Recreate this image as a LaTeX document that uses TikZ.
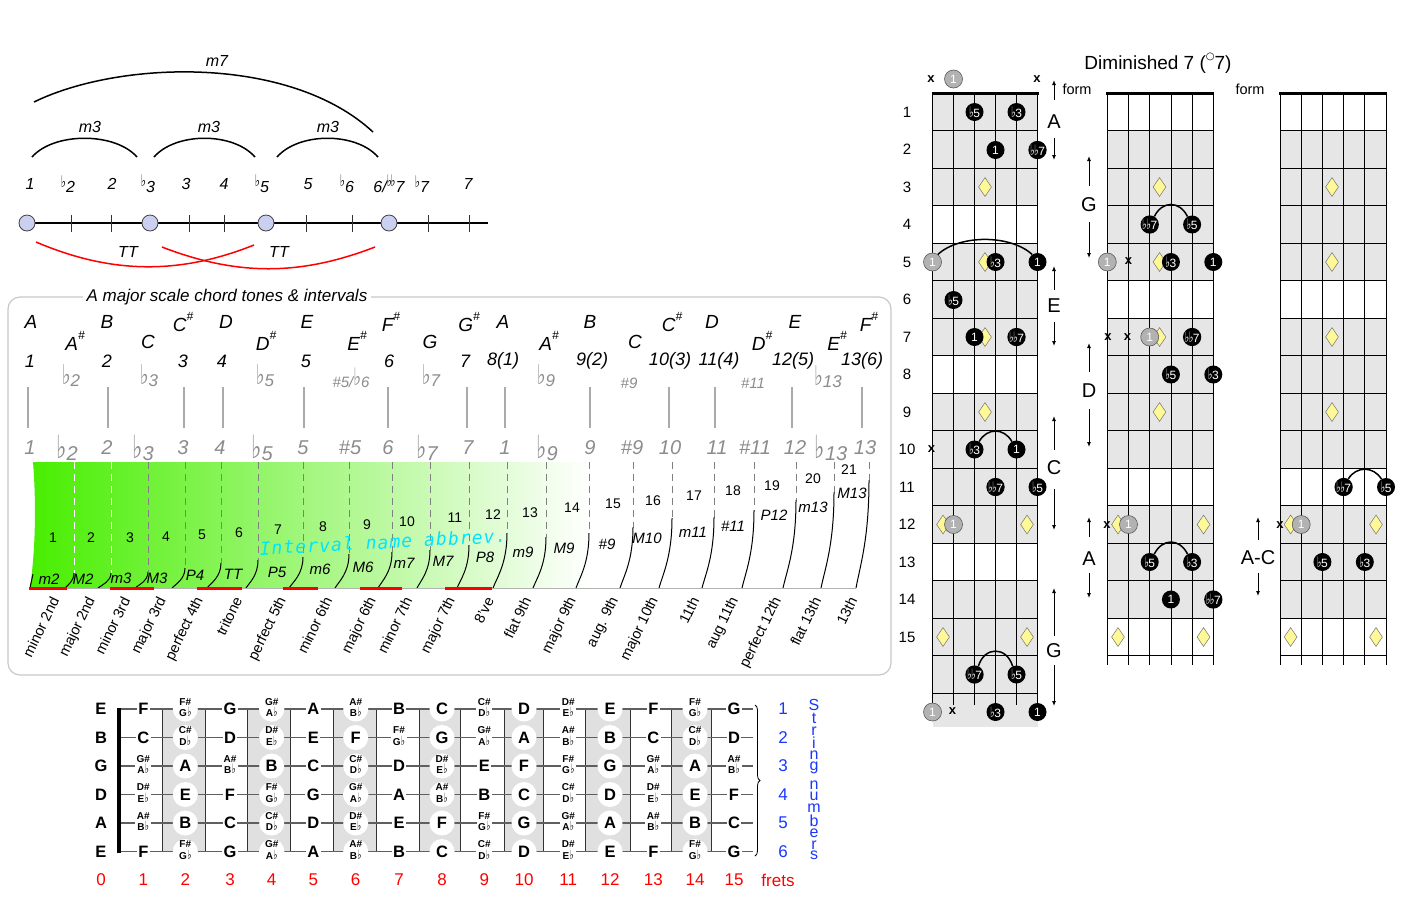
\documentclass[tikz,border=0pt]{standalone}
\usepackage{fontspec}
\setmainfont{Liberation Sans}
\newfontfamily\dejavu{DejaVu Sans}
\newfontfamily\dmono[LetterSpace=6]{DejaVu Sans Mono}
\usetikzlibrary{arrows.meta,shapes.geometric,decorations.pathreplacing}
\definecolor{lav}{RGB}{204,208,240}
\definecolor{gtxt}{RGB}{140,140,140}
\definecolor{gline}{RGB}{170,170,170}
\definecolor{fbgray}{RGB}{230,230,230}
\definecolor{colgray}{RGB}{224,224,224}
\definecolor{greenL}{RGB}{72,238,0}
\definecolor{greenM}{RGB}{214,250,200}
\definecolor{redL}{RGB}{255,0,0}
\definecolor{blueS}{RGB}{25,55,255}
\definecolor{cyanT}{RGB}{0,228,255}
\definecolor{dia}{RGB}{255,248,150}
\definecolor{gcirc}{RGB}{178,178,178}
\definecolor{boxgray}{RGB}{200,200,200}
\definecolor{strg}{RGB}{95,95,95}
\newcommand\fs[1]{\fontsize{#1}{#1}\selectfont}
\newcommand\FL{{\dejavu\upshape\scalebox{1.1}[1.6]{♭}}}
\newcommand\fsup{\raisebox{.35em}{\fs{10}\FL}}
\newcommand\gfl{\raisebox{.12em}{\FL}}
\newcommand\cf{{\fs{9}\FL}\kern-.5pt}
\newcommand\shp[2]{{\fs{10}\begin{tabular}{@{}c@{}}#1\#\\[-0.8pt]#2\kern.3pt{\fs{8}\FL}\end{tabular}}}
\newcommand\nat[1]{{\fs{16.5}#1}}
\newcommand\notename[1]{\ifcase#1 \nat{C}\or\shp{C}{D}\or\nat{D}\or\shp{D}{E}\or\nat{E}\or\nat{F}\or\shp{F}{G}\or\nat{G}\or\shp{G}{A}\or\nat{A}\or\shp{A}{B}\or\nat{B}\fi}
\newcommand\sh{\raisebox{.55em}{\fs{12}\#}}
\begin{document}
\begin{tikzpicture}[x=1pt,y=-1pt,
  tl/.style={font=\fs{16}\itshape, inner sep=0pt},
  dot/.style={circle, draw=black!75, line width=.8pt, fill=lav, minimum size=16pt, inner sep=0pt},
  karc/.style={line width=1.5pt},
  rarc/.style={line width=1.5pt, redL},
  nn/.style={font=\fs{19}\itshape, inner sep=0pt},
  dg/.style={font=\fs{18}\itshape, inner sep=0pt},
  gd/.style={font=\fs{17}\itshape, text=gtxt, inner sep=0pt},
  lg/.style={font=\fs{20}\itshape, text=gtxt, inner sep=0pt},
  vl/.style={gline, line width=1.2pt},
  num/.style={font=\fs{14}, inner sep=0pt},
  abr/.style={font=\fs{15}\itshape, inner sep=0pt},
  rot/.style={font=\fs{14.5}, anchor=east, rotate=64, inner sep=0pt},
  sol/.style={line width=1pt, black},
  noteC/.style={circle, fill=white, minimum size=25pt, inner sep=0pt, font=\bfseries},
  noteR/.style={fill=white, inner sep=1.5pt, font=\bfseries},
  fretn/.style={font=\fs{17}, text=redL, inner sep=0pt},
  fret/.style={line width=.8pt, black},
  bc/.style={circle, fill=black, text=white, minimum size=18pt, inner sep=0pt, font=\fs{12}},
  gc/.style={circle, fill=gcirc, draw=black!65, line width=.6pt, text=white, minimum size=18pt, inner sep=0pt, font=\fs{12}},
  dm/.style={diamond, fill=dia, draw=black!55, line width=.5pt, minimum width=13pt, minimum height=19pt, inner sep=0pt},
  xm/.style={font=\fs{13}\bfseries, inner sep=0pt},
  farr/.style={-{Latex[length=5pt,width=4pt]}, line width=1pt},
  flab/.style={font=\fs{20}, inner sep=0pt},
  fnum/.style={font=\fs{15}, inner sep=0pt}
]
\fill[white] (0,0) rectangle (1407,898);
\useasboundingbox (0,0) rectangle (1407,898);

%% ---------- top-left interval line ----------
\draw[line width=1.3pt] (27,223) -- (488,223);
\foreach \x [count=\i] in {71,111,189,224,306,352,428,469}
  \draw[line width=.9pt, black!80] (\x,215) coordinate (tk\i) -- (\x,232);
\foreach \x/\n in {27/c1,150/c3,266/c5,389/c6}
  \node[dot] (\n) at (\x,223) {};
\node[tl] (d1) at (30,184) {1};
\node[tl] (d2) at (68,184) {\fsup2};
\node[tl] (d3) at (112,184) {2};
\node[tl] (d4) at (148,184) {\fsup3};
\node[tl] (d5) at (186,184) {3};
\node[tl] (d6) at (224,184) {4};
\node[tl] (d7) at (262,184) {\fsup5};
\node[tl] (d8) at (308,184) {5};
\node[tl] (d9) at (347,184) {\fsup6};
\node[tl] (d10) at (389,184) {6/\fsup\kern-1.5pt\fsup7};
\node[tl] (d11) at (422,184) {\fsup7};
\node[tl] (d12) at (468,184) {7};
\coordinate (m3a1) at (32,157); \coordinate (m3b1) at (137,157);
\coordinate (m3a2) at (154,157); \coordinate (m3b2) at (255,157);
\coordinate (m3a3) at (277,157); \coordinate (m3b3) at (378,157);
\foreach \i in {1,2,3}
  \draw[karc] (m3a\i) .. controls +(22,-25) and +(-22,-25) .. (m3b\i);
\node[tl] (lm31) at (90,127) {m3};
\node[tl] (lm32) at (209,127) {m3};
\node[tl] (lm33) at (328,127) {m3};
\coordinate (m7a) at (34,102); \coordinate (m7b) at (373,132);
\draw[karc] (m7a) .. controls (120,60) and (290,55) .. (m7b);
\node[tl] (lm7) at (217,61) {m7};
\coordinate (tta1) at (36,242); \coordinate (ttb1) at (254,245);
\coordinate (tta2) at (162,247); \coordinate (ttb2) at (375,247);
\draw[rarc] (tta1) .. controls (111,274) and (179,275) .. (ttb1);
\draw[rarc] (tta2) .. controls (237,276) and (300,276) .. (ttb2);
\node[tl] (tt1) at (128,252) {TT};
\node[tl] (tt2) at (279,252) {TT};

%% ---------- scale box ----------
\draw[boxgray, line width=1.2pt, rounded corners=12pt] (8,297) rectangle (891,675);
\node[fill=white, font=\fs{17}\itshape, inner xsep=4pt, inner ysep=1pt] (boxtitle) at (227,297) {A major scale chord tones \& intervals};
\foreach \x/\y/\t [count=\i] in {31/322/A, 75/341/A\sh, 107/322/B, 148/342/C, 183/322/C\sh, 226/322/D, 266/341/D\sh, 307/322/E, 357/341/E\sh, 391/322/F\sh, 430/342/G, 469/322/G\sh, 503/322/A, 549/341/A\sh, 590/322/B, 635/342/C, 672/322/C\sh, 712/322/D, 762/341/D\sh, 795/322/E, 837/341/E\sh, 869/322/F\sh}
  \node[nn] (nm\i) at (\x,\y) {\t};
\foreach \x/\t [count=\i] in {30/1, 107/2, 183/3, 222/4, 306/5, 389/6, 465/7, 503/8(1), 592/9(2), 670/10(3), 719/11(4), 793/12(5), 862/13(6)}
  \node[dg] (dg\i) at (\x,361) {\t};
\node[gd] (gd1) at (71,376) {\gfl2};
\node[gd] (gd2) at (149,376) {\gfl3};
\node[gd] (gd3) at (265,376) {\gfl5};
\node[gd, font=\fs{15}\itshape] (gd4) at (351,378) {\#5/\gfl6};
\node[gd] (gd5) at (431,376) {\gfl7};
\node[gd] (gd6) at (546,376) {\gfl9};
\node[gd, font=\fs{15}\itshape] (gd7) at (629,383) {\#9};
\node[gd, font=\fs{15}\itshape] (gd8) at (753,383) {\#11};
\node[gd] (gd9) at (828,377) {\gfl13};
\foreach \x [count=\i] in {28,108,184,223,304,388,467,505,590,669,715,792,862}
  \draw[vl] (\x,387) coordinate (vt\i) -- (\x,428) coordinate (vb\i);
\foreach \x/\t [count=\i] in {30/1, 67/\gfl2, 107/2, 143/\gfl3, 183/3, 220/4, 262/\gfl5, 303/5, 350/\#5, 388/6, 427/\gfl7, 468/7, 505/1, 547/\gfl9, 590/9, 632/\#9, 670/10, 717/11, 755/\#11, 795/12, 831/\gfl13, 865/13}
  \node[lg] (lg\i) at (\x,448) {\t};

% gradient
\shade[left color=greenL, middle color=greenM, right color=white]
  (33,462) -- (590,462) -- (590,588) -- (30,588) .. controls (36,545) and (36,500) .. (33,462) -- cycle;
\draw[sol] (33,574) -- (30,588);
\foreach \tx/\sy/\bx/\cl in {74/573/65/white, 111/573/98/white, 148/572/135/gray, 185/568/172/gray, 221/563/207/gray, 258/560/246/gray, 303/557/289/gray, 349/554/335/gray, 392/552/378/gray, 430/550/417/gray, 469/545/457/gray, 507/533/493/gray, 546/537/533/gray, 589/533/576/gray, 633/527/620/gray, 672/518/659/gray, 714/517/702/gray, 754/510/742/gray, 796/500/783/gray, 834/492/821/gray, 869/480/856/gray} {
  \draw[\cl, line width=1pt, dash pattern=on 7pt off 5pt] (\tx,462) -- (\tx,\sy);
  \pgfmathsetmacro\ca{\sy+0.55*(588-\sy)}
  \pgfmathsetmacro\cb{\bx+0.3*(\tx-\bx)}
  \pgfmathsetmacro\cc{588-0.2*(588-\sy)}
  \draw[sol] (\tx,\sy) .. controls (\tx,\ca) and (\cb,\cc) .. (\bx,588);
}
\draw[gray!60, line width=1pt] (29,588) -- (856,588);
\foreach \a/\b in {29/67,110/154,197/242,283/318,360/402,445/492}
  \draw[redL, line width=3pt] (\a,588) -- (\b,588);
\foreach \x/\y [count=\i] in {53/538,91/538,130/538,166/537,202/535,239/533,278/530,323/527,367/525,407/522,455/518,493/515,530/513,572/508,613/504,653/501,694/496,733/491,772/486,813/479,849/470}
  \node[num] (iv\i) at (\x,\y) {\i};
\foreach \x/\y/\t [count=\i] in {49/579/m2, 83/579/M2, 121/578/m3, 157/578/M3, 195/575/P4, 233/574/TT, 277/572/P5, 320/569/m6, 363/567/M6, 404/563/m7, 443/561/M7, 485/557/P8, 523/552/m9, 564/548/M9, 607/544/\#9, 647/538/M10, 693/532/m11, 733/526/\#11, 774/515/P12, 813/507/m13, 852/493/M13}
  \node[abr] (ab\i) at (\x,\y) {\t};
\node[font=\fs{18}\dmono\itshape, text=cyanT, rotate=3, inner sep=0pt] (inab) at (383,542) {Interval name abbrev.};
\foreach \x/\t [count=\i] in {55/minor 2nd, 92/major 2nd, 126/minor 3rd, 163/major 3rd, 200/perfect 4th, 238/tritone, 283/perfect 5th, 328/minor 6th, 373/major 6th, 408/minor 7th, 452/major 7th, 490/8've, 527/flat 9th, 573/major 9th, 615/aug. 9th, 655/major 10th, 695/11th, 735/aug 11th, 778/perfect 12th, 817/flat 13th, 853/13th}
  \node[rot] (rl\i) at (\x,598) {\t};

%% ---------- bottom fretboard ----------
\def\NX{{101,143.3,185.3,230,271.7,313.3,355.7,399,442,484.3,524,568.3,610,653.3,695,734}}
\foreach \a/\b in {162.7/205,247.3/290.7,333.3/376,419/460.7,504/543.3,585.7/630,671.7/711.7}
  \fill[colgray] (\a,709) rectangle (\b,851.5);
\foreach \x in {162.7,205,247.3,290.7,333.3,376,419,460.7,504,543.3,585.7,630,671.7,711.7}
  \draw[line width=1pt, black!80] (\x,709) -- (\x,851.5);
\draw[line width=4pt] (119,708) -- (119,852.5);
\foreach \st/\op in {1/4,2/11,3/7,4/2,5/9,6/4} {
  \pgfmathsetmacro\yy{709+28.5*(\st-1)}
  \draw[strg, line width=1.2pt] (121,\yy) -- (753,\yy);
  \node[font=\bfseries, inner sep=0pt] (op\st) at (101,\yy) {\notename{\op}};
  \node[font=\fs{17}, text=blueS, inner sep=0pt] (sn\st) at (783,\yy) {\st};
  \foreach \f in {1,...,15} {
    \pgfmathsetmacro\xx{\NX[\f]}
    \pgfmathtruncatemacro\nn{mod(\op+\f,12)}
    \pgfmathtruncatemacro\ev{mod(\f,2)}
    \ifnum\ev=0
      \node[noteC] (n\st-\f) at (\xx,\yy) {\notename{\nn}};
    \else
      \node[noteR] (n\st-\f) at (\xx,\yy) {\notename{\nn}};
    \fi
  }
}
\foreach \f in {0,...,15} {
  \pgfmathsetmacro\xx{\NX[\f]}
  \node[fretn] (fn\f) at (\xx,880) {\f};
}
\node[fretn] (fretslab) at (778,880) {frets};
\coordinate (brt) at (755,705); \coordinate (brb) at (755,856);
\draw[decorate, decoration={brace, amplitude=5pt}, line width=.8pt] (brt) -- (brb);
\foreach \y/\t [count=\i] in {705/S,718/t,731/r,743/i,755/n,768/g,785/n,796/u,808/m,821/b,833/e,845/r,855/s}
  \node[font=\fs{16}, text=blueS, inner sep=0pt] (sl\i) at (814,\y) {\t};

%% ---------- right fretboards ----------
\fill[fbgray] (932.5,93.3) rectangle (1037.5,727);
\foreach \c in {4,8,13}
  \fill[white] (932.5,{93.3+37.5*(\c-1)}) rectangle (1037.5,{93.3+37.5*\c});
\foreach \k in {1,...,16}
  \draw[fret] (932.5,{93.3+37.5*\k}) -- (1037.5,{93.3+37.5*\k});
\foreach \i in {0,...,5}
  \draw[fret] ({932.5+21*\i},93.3) -- ({932.5+21*\i},705);
\draw[line width=2.5pt] (931.5,93.3) -- (1038.5,93.3);
\foreach \n in {1,...,15}
  \node[fnum] (frl\n) at (907,{93.3+37.5*(\n-0.5)}) {\n};
\foreach \x/\b in {1107.3/2,1280/3} {
  \fill[fbgray] (\x,130.8) rectangle ({\x+106},280.8);
  \fill[fbgray] (\x,318.3) rectangle ({\x+106},468.3);
  \fill[fbgray] (\x,505.8) rectangle ({\x+106},618.3);
  \foreach \k in {1,...,15}
    \draw[fret] (\x,{93.3+37.5*\k}) -- ({\x+106},{93.3+37.5*\k});
  \foreach \i in {0,...,5}
    \draw[fret] ({\x+21.2*\i},93.3) -- ({\x+21.2*\i},665);
  \draw[line width=2.5pt] ({\x-1},93.3) -- ({\x+107},93.3);
}
\foreach \x/\y [count=\i] in {985/187,985/262,985/337,985/412,943/524.5,1027/524.5,943/637,1027/637,
  1159.5/187,1159.5/262,1159.5/337,1159.5/412,1118/524.5,1203.5/524.5,1118/637,1203.5/637,
  1332/187,1332/262,1332/337,1332/412,1290.6/524.5,1376/524.5,1290.6/637,1376/637}
  \node[dm] (dm\i) at (\x,\y) {};
\foreach \n/\x/\y/\t in {b1/974.5/112/\cf5, b2/1016.5/112/\cf3, b3/995.5/150/1, b4/1037.5/150/\cf\cf7, b5/995.5/262/\cf3, b6/1037.5/262/1, b7/953.5/300/\cf5, b8/974.5/337/1, b9/1016.5/337/\cf\cf7, b10/974.5/449.5/\cf3, b11/1016.5/449.5/1, b12/995.5/487/\cf\cf7, b13/1037.5/487/\cf5, b14/974.5/674.5/\cf\cf7, b15/1016.5/674.5/\cf5, b16/995.5/712/\cf3, b17/1037.5/712/1,
  b18/1149.7/224.5/\cf\cf7, b19/1192.1/224.5/\cf5, b20/1170.9/262/\cf3, b21/1213.3/262/1, b22/1192.1/337/\cf\cf7, b23/1170.9/374.5/\cf5, b24/1213.3/374.5/\cf3, b25/1149.7/562/\cf5, b26/1192.1/562/\cf3, b27/1170.9/599.5/1, b28/1213.3/599.5/\cf\cf7,
  b29/1343.6/487/\cf\cf7, b30/1386/487/\cf5, b31/1322.4/562/\cf5, b32/1364.8/562/\cf3}
  \node[bc] (\n) at (\x,\y) {\t};
\foreach \n/\x/\y in {g1/953.5/79, g2/932.5/262, g3/953.5/524.5, g4/932.5/712, g5/1107.3/262, g6/1149.7/337, g7/1128.5/524.5, g8/1301.2/524.5}
  \node[gc] (\n) at (\x,\y) {1};
\foreach \n/\x/\y in {x1/931/79, x2/1037/79, x3/931.5/449.5, x4/952.5/711, x5/1128.5/261, x6/1108/337, x7/1127.5/337, x8/1107/525.5, x9/1280/525.5}
  \node[xm] (\n) at (\x,\y) {x};
\draw[karc] (g2.55) .. controls +(22,-20) and +(-22,-20) .. (b6.125);
\draw[karc] (b10.60) .. controls +(8,-14) and +(-8,-14) .. (b11.120);
\draw[karc] (b14.65) .. controls +(6,-20) and +(-6,-20) .. (b15.115);
\draw[karc] (b18.60) .. controls +(8,-16) and +(-8,-16) .. (b19.120);
\draw[karc] (b25.60) .. controls +(8,-16) and +(-8,-16) .. (b26.120);
\draw[karc] (b29.60) .. controls +(8,-13) and +(-8,-13) .. (b30.120);
\foreach \n/\x/\ua/\ub/\ly/\t/\da/\db in {fa/1054/100/80/122/A/138/160, fe/1054/290/266/306/E/322/346, fc/1054/450/416/468/C/489/530, fg/1054/636/588/651/G/665/706, sg/1089/186/156/205/G/222/258, sd/1089/372/343/391/D/409/447, sa/1089/537/517/559/A/573/598, tac/1258/540/517/558/A-C/573/596} {
  \coordinate (\n u1) at (\x,\ua); \coordinate (\n u2) at (\x,\ub);
  \coordinate (\n d1) at (\x,\da); \coordinate (\n d2) at (\x,\db);
  \draw[farr] (\n u1) -- (\n u2);
  \draw[farr] (\n d1) -- (\n d2);
  \node[flab] (\n l) at (\x,\ly) {\t};
}
\node[font=\fs{14.5}, inner sep=0pt] (form1) at (1077,89) {form};
\node[font=\fs{14.5}, inner sep=0pt] (form2) at (1250,89) {form};
\node[font=\fs{19}, inner sep=0pt] (dimtitle) at (1158,63) {Diminished 7 (\raisebox{.5em}{\fs{10}\dejavu ○}7)};
\end{tikzpicture}
\end{document}
